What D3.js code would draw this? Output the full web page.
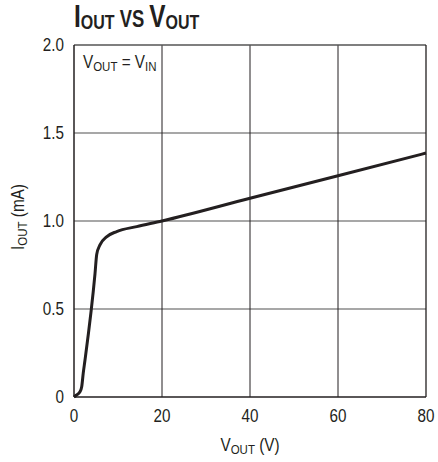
<!DOCTYPE html>
<html><head><meta charset="utf-8">
<script src="https://cdn.jsdelivr.net/npm/d3@7"></script>
<style>
body{margin:0;background:#fff;}
text{font-family:"Liberation Sans","Arial",sans-serif;fill:#231f20;}
</style></head>
<body><svg id="c" width="438" height="462"></svg>
<script>
const xTicks = [0, 20, 40, 60, 80];
const yTicks = [0, 0.5, 1.0, 1.5, 2.0];
const yTickLabels = ["0", "0.5", "1.0", "1.5", "2.0"];
const vout = [0, 0.5, 1.36, 1.75, 2.1, 2.5, 4.77, 5.16, 5.9, 7.4, 9.7, 14.25, 20, 40, 60, 80];
const iout = [0, 0.01, 0.03, 0.058, 0.136, 0.21, 0.7, 0.81, 0.864, 0.91, 0.94, 0.968, 1.0, 1.129, 1.257, 1.386];

const svg = d3.select("#c");
const L = 74, R = 426, T = 45, B = 397;
const x = d3.scaleLinear().domain([0, 80]).range([L, R]);
const y = d3.scaleLinear().domain([0, 2]).range([B, T]);

// condensed text helper
function ctext(px, py, size, sx, anchor, rot) {
  return svg.append("text")
    .attr("transform", `translate(${px},${py})` + (rot ? ` rotate(${rot})` : "") + ` scale(${sx},1)`)
    .attr("font-size", size).attr("text-anchor", anchor || "start");
}

// horizontal grid (grey)
svg.append("g").selectAll("line").data(yTicks.slice(1, -1)).join("line")
  .attr("x1", L).attr("x2", R).attr("y1", d => y(d)).attr("y2", d => y(d))
  .attr("stroke", "#8a8a8a").attr("stroke-width", 1.3);
// vertical grid (dark)
svg.append("g").selectAll("line").data(xTicks.slice(1, -1)).join("line")
  .attr("y1", T).attr("y2", B).attr("x1", d => x(d)).attr("x2", d => x(d))
  .attr("stroke", "#231f20").attr("stroke-width", 1);
// frame
svg.append("line").attr("x1", L).attr("x2", R).attr("y1", T).attr("y2", T).attr("stroke", "#555").attr("stroke-width", 1.3);
svg.append("line").attr("x1", R).attr("x2", R).attr("y1", T).attr("y2", B).attr("stroke", "#231f20").attr("stroke-width", 1.3);
svg.append("line").attr("x1", L).attr("x2", L).attr("y1", T).attr("y2", B).attr("stroke", "#231f20").attr("stroke-width", 1.5);
svg.append("line").attr("x1", L).attr("x2", R).attr("y1", B).attr("y2", B).attr("stroke", "#231f20").attr("stroke-width", 1.5);

// tick labels
yTicks.forEach((d, i) => ctext(64, y(d) + 6, 17.5, 0.87, "end").text(yTickLabels[i]));
xTicks.forEach(d => ctext(x(d), 422, 17.5, 0.87, "middle").text(d));

// curve
const line = d3.line().x(d => x(d[0])).y(d => y(d[1])).curve(d3.curveMonotoneX);
svg.append("path").datum(vout.map((v, i) => [v, iout[i]]))
  .attr("d", line).attr("fill", "none").attr("stroke", "#231f20")
  .attr("stroke-width", 3).attr("stroke-linejoin", "round");

// title
const title = ctext(74, 26.5, 30.5, 0.8, "start").attr("font-weight", "bold");
title.append("tspan").text("I");
title.append("tspan").attr("font-size", 20).attr("dy", 2).text("OUT");
title.append("tspan").attr("dy", -2).attr("font-size", 23).text(" VS ");
title.append("tspan").text("V");
title.append("tspan").attr("font-size", 20).attr("dy", 2).text("OUT");

// annotation
const ann = ctext(83, 68, 18, 0.85, "start");
ann.append("tspan").text("V");
ann.append("tspan").attr("font-size", 13.5).attr("dy", 3).text("OUT");
ann.append("tspan").attr("dy", -3).text(" = V");
ann.append("tspan").attr("font-size", 13.5).attr("dy", 3).text("IN");

// x axis label
const xl = ctext(250, 451, 18, 0.85, "middle");
xl.append("tspan").text("V");
xl.append("tspan").attr("font-size", 13.5).attr("dy", 3).text("OUT");
xl.append("tspan").attr("dy", -3).text(" (V)");

// y axis label
const yl = ctext(24, 217, 18, 0.85, "middle", -90);
yl.append("tspan").text("I");
yl.append("tspan").attr("font-size", 13.5).attr("dy", 3).text("OUT");
yl.append("tspan").attr("dy", -3).text(" (mA)");
</script></body></html>
